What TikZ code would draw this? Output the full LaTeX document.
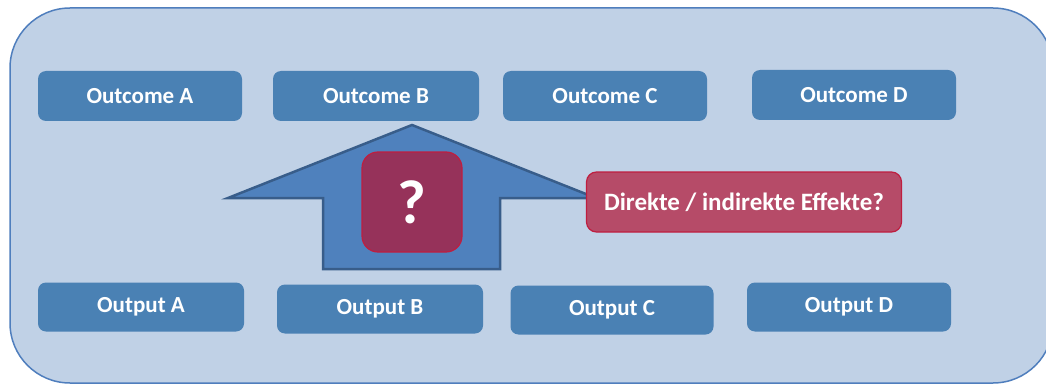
\documentclass[tikz,border=0pt]{standalone}
\usepackage{fontspec}
\setmainfont{Carlito}
\usepackage{tikz}
\definecolor{panelfill}{HTML}{C0D1E6}
\definecolor{panelline}{HTML}{4F7EBD}
\definecolor{boxfill}{HTML}{4A81B4}
\definecolor{arrowfill}{HTML}{4F81BD}
\definecolor{arrowline}{HTML}{385D8A}
\definecolor{askfill}{HTML}{96325A}
\definecolor{effectfill}{HTML}{B64B68}
\definecolor{redline}{HTML}{BE1E40}
\tikzstyle{result} = [rectangle, rounded corners=8pt, minimum width=204pt, minimum height=50pt, text centered, fill=boxfill, text=white, font=\fontsize{23pt}{27pt}\selectfont\bfseries]
\tikzstyle{ask} = [rectangle, rounded corners=16pt, minimum width=100pt, minimum height=100pt, draw=redline, line width=1.2pt, fill=askfill, text=white, font=\fontsize{62pt}{68pt}\selectfont\bfseries]
\tikzstyle{effect} = [rectangle, rounded corners=10pt, minimum width=315pt, minimum height=60pt, draw=redline, line width=1.2pt, fill=effectfill, text=white, font=\fontsize{25pt}{29pt}\selectfont\bfseries]

\begin{document}
\begin{tikzpicture}[x=1pt, y=-1pt]
    \useasboundingbox (0,0) rectangle (1046,385);
    \draw [panelline, fill=panelfill, line width=1.5pt, rounded corners=60pt] (10,8) rectangle (1053,383);

    \node (outA) [result] at (140,96) {Outcome A};
    \node (outB) [result, minimum width=206pt] at (376,96) {Outcome B};
    \node (outC) [result] at (605,96) {Outcome C};
    \node (outD) [result] at (854,95) {Outcome D};

    \node (putA) [result, minimum width=206pt, minimum height=49pt] at (141,307) {Output A};
    \node (putB) [result, minimum width=206pt, minimum height=49pt] at (380,309) {Output B};
    \node (putC) [result, minimum width=203pt, minimum height=49pt] at (612,310) {Output C};
    \node (putD) [result, minimum height=49pt] at (849,307) {Output D};

    % Pfeil von Output nach Outcome
    \draw [arrowline, fill=arrowfill, line width=2.5pt, line join=miter]
        (412,125) -- (596,198) -- (500,198) -- (500,269) -- (323,269) -- (323,198) -- (228,198) -- cycle;

    \node (ask) [ask] at (412,202) {?};
    \node (eff) [effect] at (744,202) {Direkte / indirekte Effekte?};
\end{tikzpicture}
\end{document}
